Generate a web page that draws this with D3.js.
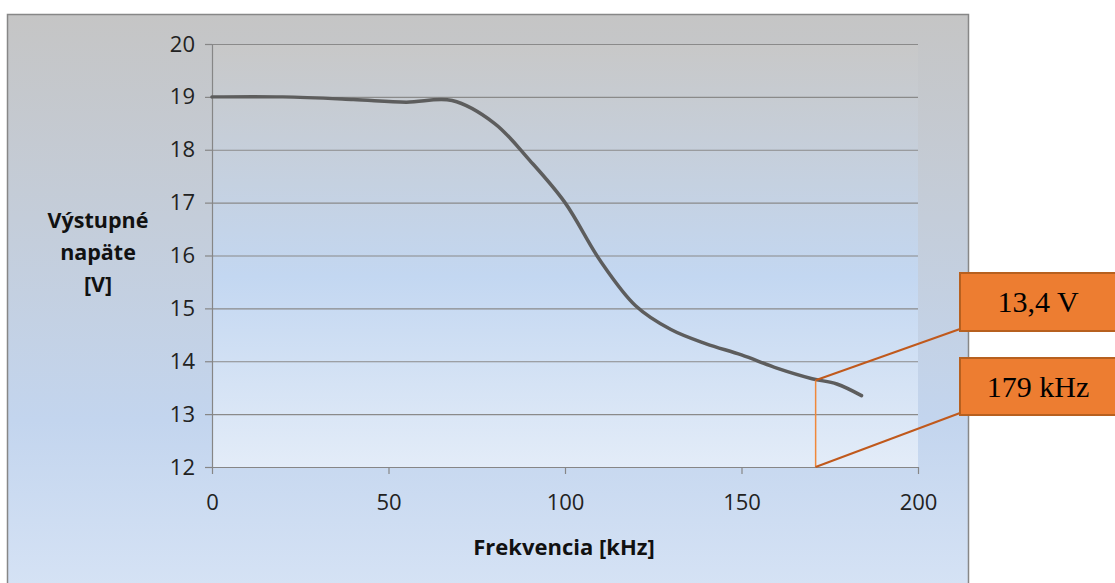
<!DOCTYPE html>
<html>
<head>
<meta charset="utf-8">
<script src="https://cdn.jsdelivr.net/npm/d3@7"></script>
<style>
  body { margin: 0; background: #fff; }
  svg { display: block; }
</style>
</head>
<body>
<svg id="chart" width="1115" height="583"></svg>
<script>
// data
const freq = [0, 20, 40, 55, 68, 80, 90, 100, 110, 120, 130, 140, 150, 160, 170, 177, 184];
const voltage = [19, 19, 18.95, 18.9, 18.93, 18.5, 17.8, 17.0, 15.9, 15.05, 14.6, 14.33, 14.12, 13.87, 13.67, 13.57, 13.35];
const xTicks = [0, 50, 100, 150, 200];
const yTicks = [12, 13, 14, 15, 16, 17, 18, 19, 20];
const yTitle = ["Výstupné", "napäte", "[V]"];
const xTitle = "Frekvencia [kHz]";
// callout: marked point and its labels
const markX = [171];
const markY = [13.64];
const calloutLabels = ["13,4 V", "179 kHz"];

const sans = "'Open Sans', 'Noto Sans', sans-serif";
const svg = d3.select("#chart");
const defs = svg.append("defs");

// outer chart background
const gOut = defs.append("linearGradient").attr("id", "outerBg").attr("x1", 0).attr("y1", 0).attr("x2", 0).attr("y2", 1);
gOut.append("stop").attr("offset", "0%").attr("stop-color", "#c5c5c5");
gOut.append("stop").attr("offset", "70%").attr("stop-color", "#c3d5ee");
gOut.append("stop").attr("offset", "100%").attr("stop-color", "#d6e3f5");

// plot area background
const gIn = defs.append("linearGradient").attr("id", "plotBg").attr("x1", 0).attr("y1", 0).attr("x2", 0).attr("y2", 1);
gIn.append("stop").attr("offset", "0%").attr("stop-color", "#c8c8c8");
gIn.append("stop").attr("offset", "55%").attr("stop-color", "#c3d7f1");
gIn.append("stop").attr("offset", "100%").attr("stop-color", "#e3ecf8");

svg.append("rect")
  .attr("x", 7.5).attr("y", 14.5).attr("width", 961).attr("height", 580)
  .attr("fill", "url(#outerBg)").attr("stroke", "#878787").attr("stroke-width", 1.5);

const x = d3.scaleLinear().domain([0, 200]).range([212, 918]);
const y = d3.scaleLinear().domain([12, 20]).range([467, 44]);

svg.append("rect")
  .attr("x", x(0)).attr("y", y(20)).attr("width", x(200) - x(0)).attr("height", y(12) - y(20))
  .attr("fill", "url(#plotBg)");

// gridlines
svg.append("g").selectAll("line").data(yTicks.filter(d => d > 12)).join("line")
  .attr("x1", x(0)).attr("x2", x(200))
  .attr("y1", d => y(d) + 0.5).attr("y2", d => y(d) + 0.5)
  .attr("stroke", "#8a8a8a").attr("stroke-width", 1.2);

// y axis
const yAxis = svg.append("g").attr("transform", `translate(${x(0)},0)`)
  .call(d3.axisLeft(y).tickValues(yTicks).tickSize(7).tickPadding(8).tickSizeOuter(0));
yAxis.select(".domain").attr("stroke", "#868686").attr("stroke-width", 1.2);
yAxis.selectAll(".tick line").attr("stroke", "#868686").attr("stroke-width", 1.2);
yAxis.selectAll(".tick text").style("font-size", "22px").style("font-family", sans)
  .attr("fill", "#222").attr("dx", -2);

// x axis
const xAxis = svg.append("g").attr("transform", `translate(0,${y(12)})`)
  .call(d3.axisBottom(x).tickValues(xTicks).tickSize(7).tickPadding(20).tickSizeOuter(0));
xAxis.select(".domain").attr("stroke", "#868686").attr("stroke-width", 1.2);
xAxis.selectAll(".tick line").attr("stroke", "#868686").attr("stroke-width", 1.2);
xAxis.selectAll(".tick text").style("font-size", "22px").style("font-family", sans)
  .attr("fill", "#222");

// axis titles
svg.append("text").attr("x", 98).attr("y", 228)
  .attr("text-anchor", "middle").style("font-size", "21.5px").style("font-family", sans)
  .attr("font-weight", "bold").attr("fill", "#111")
  .selectAll("tspan").data(yTitle).join("tspan")
  .attr("x", 98).attr("dy", (d, i) => i === 0 ? 0 : 32).text(d => d);

svg.append("text").attr("x", x(100) - 1).attr("y", 555)
  .attr("text-anchor", "middle").style("font-size", "22px").style("font-family", sans)
  .attr("font-weight", "bold").attr("fill", "#111")
  .text(xTitle);

// curve
const pts = freq.map((f, i) => [f, voltage[i]]);
const line = d3.line().x(d => x(d[0])).y(d => y(d[1])).curve(d3.curveCatmullRom.alpha(0.5));
svg.append("path").datum(pts)
  .attr("d", line)
  .attr("fill", "none").attr("stroke", "#5d5d5d").attr("stroke-width", 3.5)
  .attr("stroke-linecap", "round");

// callout
const mx = x(markX[0]), my = y(markY[0]);
svg.append("line")
  .attr("x1", mx).attr("x2", mx).attr("y1", my).attr("y2", y(12))
  .attr("stroke", "#f0883a").attr("stroke-width", 1.5);

const boxes = [
  { x: 960, y: 273, w: 160, h: 58, from: [mx, my], label: calloutLabels[0] },
  { x: 960, y: 358, w: 160, h: 57, from: [mx, y(12)], label: calloutLabels[1] }
];

svg.append("g").selectAll("line").data(boxes).join("line")
  .attr("x1", d => d.from[0]).attr("y1", d => d.from[1])
  .attr("x2", d => d.x).attr("y2", d => d.y + d.h - 2)
  .attr("stroke", "#c0591c").attr("stroke-width", 2);

const bg = svg.append("g").selectAll("g").data(boxes).join("g");
bg.append("rect")
  .attr("x", d => d.x).attr("y", d => d.y).attr("width", d => d.w).attr("height", d => d.h)
  .attr("fill", "#ed7d31").attr("stroke", "#b7601f").attr("stroke-width", 2);
bg.append("text")
  .attr("x", d => d.x + 78).attr("y", d => d.y + d.h / 2 + 10)
  .attr("text-anchor", "middle").attr("fill", "#000")
  .style("font-size", "30px").style("font-family", "'Liberation Serif', 'DejaVu Serif', serif")
  .text(d => d.label);
</script>
</body>
</html>
